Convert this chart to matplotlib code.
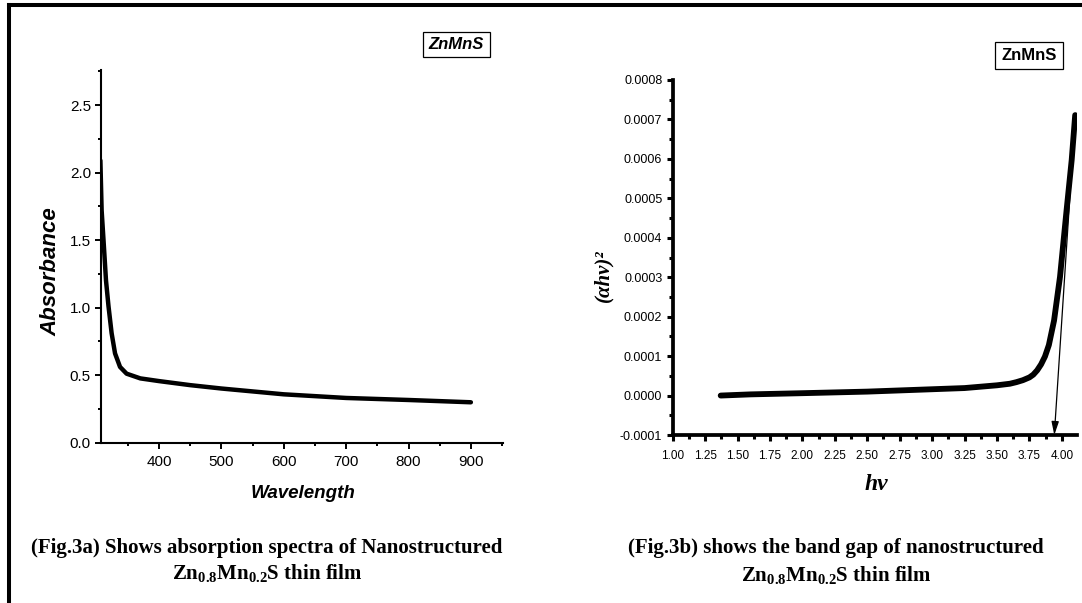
import matplotlib
matplotlib.use("Agg")
import matplotlib.pyplot as plt
from matplotlib.lines import Line2D
from matplotlib.ticker import MultipleLocator, FormatStrFormatter

plt.rcParams['mathtext.fontset'] = 'custom'
plt.rcParams['mathtext.rm'] = 'Liberation Serif:bold'
plt.rcParams['mathtext.bf'] = 'Liberation Serif:bold'

# Fig.3a absorption spectrum
wavelength = [306, 308, 311, 315, 319, 324, 329.5, 337.5, 348, 370, 400, 450, 500, 600, 700, 800, 900]
absorbance = [2.09, 1.72, 1.50, 1.20, 1.01, 0.81, 0.66, 0.56, 0.51, 0.475, 0.455, 0.425, 0.40, 0.357,
              0.33, 0.315, 0.298]

# Fig.3b (alpha h nu)^2 vs h nu
hv = [1.37, 1.6, 2.0, 2.5, 3.0, 3.25, 3.5, 3.6, 3.65, 3.70, 3.75, 3.78, 3.81, 3.84, 3.87, 3.90, 3.94,
      3.986, 4.037, 4.076, 4.103]
ahv2 = [0.0, 0.3e-5, 0.6e-5, 1.0e-5, 1.6e-5, 1.9e-5, 2.6e-5, 3.0e-5, 3.4e-5, 3.9e-5, 4.6e-5, 5.3e-5,
        6.4e-5, 7.9e-5, 9.9e-5, 1.28e-4, 1.9e-4, 3.01e-4, 4.71e-4, 5.97e-4, 7.11e-4]

# band gap extrapolation arrow
arrow_start = (4.103, 0.000711)
arrow_end = (3.942, -0.0001)

W, H = 1082, 603
sans = ['Liberation Sans', 'DejaVu Sans']
serif = ['Liberation Serif', 'DejaVu Serif']

fig = plt.figure(figsize=(W / 100, H / 100), dpi=100)


def fx(x):
    return x / W


def fy(y):
    return 1 - y / H


# page frame lines (left and top)
fig.add_artist(Line2D([fx(8.6), fx(8.6)], [0, fy(5)], transform=fig.transFigure, color='k', lw=2.9))
fig.add_artist(Line2D([fx(8.6), 1], [fy(5.2), fy(5.2)], transform=fig.transFigure, color='k', lw=2.9))

# ---- left panel ----
ax1 = fig.add_axes([fx(100.7), fy(442.5), (503 - 100.7) / W, (442.5 - 70) / H])
ax1.plot(wavelength, absorbance, color='k', lw=3.2, solid_capstyle='round', solid_joinstyle='round')
ax1.set_xlim(306.5, 951.5)
ax1.set_ylim(0, 2.76)
for s in ['top', 'right']:
    ax1.spines[s].set_visible(False)
for s in ['left', 'bottom']:
    ax1.spines[s].set_linewidth(1.5)
ax1.xaxis.set_major_locator(MultipleLocator(100))
ax1.xaxis.set_minor_locator(MultipleLocator(50))
ax1.yaxis.set_major_locator(MultipleLocator(0.5))
ax1.yaxis.set_minor_locator(MultipleLocator(0.25))
ax1.yaxis.set_major_formatter(FormatStrFormatter('%.1f'))
ax1.tick_params(which='major', direction='out', length=4, width=1.4, pad=3)
ax1.tick_params(which='minor', direction='out', length=2.2, width=1.4)
ax1.tick_params(axis='x', which='major', pad=5)
for lab in ax1.get_xticklabels() + ax1.get_yticklabels():
    lab.set_family(sans)
    lab.set_fontsize(11)

fig.text(fx(51), fy(272), 'Absorbance', rotation=90, ha='center', va='center',
         family=sans, fontsize=16, fontweight='bold', style='italic')
fig.text(fx(303), fy(493), 'Wavelength', ha='center', va='center',
         family=sans, fontsize=13.5, fontweight='bold', style='italic')
fig.text(fx(456.5), fy(44.5), 'ZnMnS', ha='center', va='center',
         family=sans, fontsize=12, fontweight='bold', style='italic',
         bbox=dict(boxstyle='square,pad=0.32', fc='white', ec='k', lw=0.9))

# ---- right panel ----
ax2 = fig.add_axes([fx(672.7), fy(435), (1077 - 672.7) / W, (435 - 80) / H])
ax2.plot(hv, ahv2, color='k', lw=4.2, solid_capstyle='round', solid_joinstyle='round')
ax2.annotate('', xy=arrow_end, xytext=arrow_start,
             arrowprops=dict(arrowstyle='-|>,head_length=0.8,head_width=0.22', color='k',
                             lw=0.9, mutation_scale=10, shrinkA=0, shrinkB=0))
ax2.set_xlim(1.0, 4.117)
ax2.set_ylim(-0.0001, 0.0008)
for s in ['top', 'right']:
    ax2.spines[s].set_visible(False)
for s in ['left', 'bottom']:
    ax2.spines[s].set_linewidth(2.7)
ax2.xaxis.set_major_locator(MultipleLocator(0.25))
ax2.xaxis.set_minor_locator(MultipleLocator(0.125))
ax2.yaxis.set_major_locator(MultipleLocator(0.0001))
ax2.yaxis.set_minor_locator(MultipleLocator(0.00005))
ax2.xaxis.set_major_formatter(FormatStrFormatter('%.2f'))
ax2.yaxis.set_major_formatter(FormatStrFormatter('%.4f'))
ax2.tick_params(which='major', direction='out', length=4.5, width=2.2, pad=3)
ax2.tick_params(which='minor', direction='out', length=3.2, width=2.2)
ax2.tick_params(axis='x', which='major', pad=6)
for lab in ax2.get_yticklabels():
    lab.set_family(sans)
    lab.set_fontsize(9)
for lab in ax2.get_xticklabels():
    lab.set_family(sans)
    lab.set_fontsize(8.5)

fig.text(fx(603), fy(276), '(αhν)²', rotation=90, ha='center', va='center',
         family=serif, fontsize=15, fontweight='bold', style='italic')
fig.text(fx(876), fy(484), 'hν', ha='center', va='center',
         family=serif, fontsize=17, fontweight='bold', style='italic')
fig.text(fx(1029), fy(55.5), 'ZnMnS', ha='center', va='center',
         family=sans, fontsize=12, fontweight='bold',
         bbox=dict(boxstyle='square,pad=0.38', fc='white', ec='k', lw=0.9))

# ---- captions ----
fig.text(fx(267), fy(548), '(Fig.3a) Shows absorption spectra of Nanostructured',
         ha='center', va='center', family=serif, fontsize=15, fontweight='bold')
fig.text(fx(267), fy(574), r'Zn$_{\mathbf{0.8}}$Mn$_{\mathbf{0.2}}$S thin film',
         ha='center', va='center', family=serif, fontsize=15, fontweight='bold')
fig.text(fx(836), fy(548), '(Fig.3b) shows the band gap of nanostructured',
         ha='center', va='center', family=serif, fontsize=15, fontweight='bold')
fig.text(fx(836), fy(576), r'Zn$_{\mathbf{0.8}}$Mn$_{\mathbf{0.2}}$S thin film',
         ha='center', va='center', family=serif, fontsize=15, fontweight='bold')

fig.savefig('out.png', dpi=100)
